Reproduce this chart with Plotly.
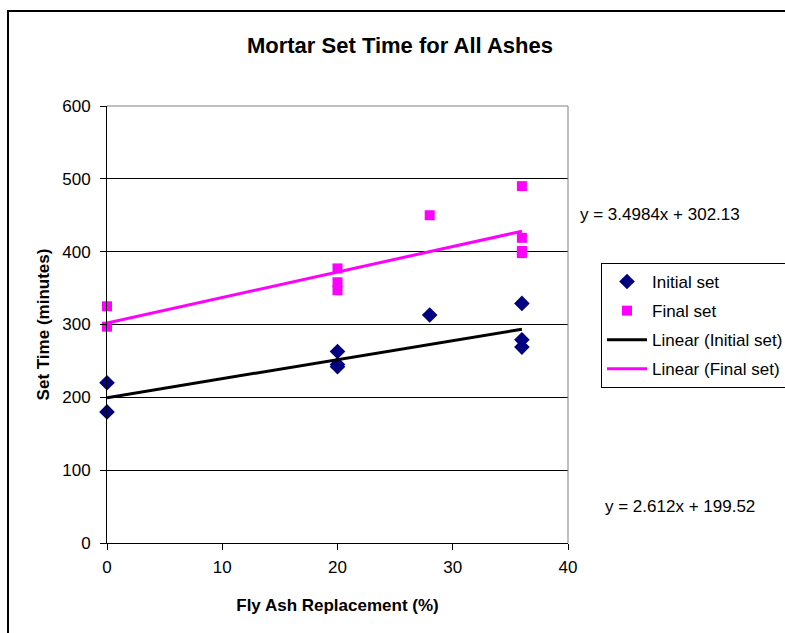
import plotly.graph_objects as go

# Data
initial_x = [0, 0, 20, 20, 20, 28, 36, 36, 36]
initial_y = [220, 180, 263, 245, 242, 313, 329, 279, 269]
final_x = [0, 0, 20, 20, 20, 28, 36, 36, 36, 36]
final_y = [325, 297, 377, 358, 347, 450, 490, 419, 401, 398]

initial_fit = [2.612, 199.52]   # slope, intercept
final_fit = [3.4984, 302.13]
fit_x = [0, 36]

x_ticks = [0, 10, 20, 30, 40]
y_ticks = [0, 100, 200, 300, 400, 500, 600]

FONT = "Liberation Sans, Arial, sans-serif"
TXT = 17

fig = go.Figure()
fig.add_trace(go.Scatter(x=initial_x, y=initial_y, mode="markers", name="Initial set",
                         legendgroup="a", cliponaxis=False,
                         marker=dict(symbol="diamond", color="#000080", size=12,
                                     line=dict(width=0))))
fig.add_trace(go.Scatter(x=final_x, y=final_y, mode="markers", name="Final set",
                         legendgroup="b", cliponaxis=False,
                         marker=dict(symbol="square", color="#FF00FF", size=10,
                                     line=dict(width=0))))
fig.add_trace(go.Scatter(x=fit_x, y=[initial_fit[0] * v + initial_fit[1] for v in fit_x],
                         mode="lines", name="Linear (Initial set)", legendgroup="c",
                         line=dict(color="black", width=3)))
fig.add_trace(go.Scatter(x=fit_x, y=[final_fit[0] * v + final_fit[1] for v in fit_x],
                         mode="lines", name="Linear (Final set)", legendgroup="d",
                         line=dict(color="#FF00FF", width=3)))

L, R, T, B = 107, 568, 106, 543
W, H = 785, 633
pw, ph = R - L, B - T

def px(xp):
    return (xp - L) / pw

def py(yp):
    return (B - yp) / ph

fig.update_layout(
    width=W, height=H,
    margin=dict(l=L, r=W - R, t=T, b=H - B, pad=0, autoexpand=False),
    paper_bgcolor="white", plot_bgcolor="white",
    font=dict(family=FONT, size=TXT, color="black"),
    title=dict(text="<b>Mortar Set Time for All Ashes</b>", xref="container",
               x=400 / W, xanchor="center", yref="container", y=1 - 45 / H,
               yanchor="middle", font=dict(size=22, family=FONT)),
    xaxis=dict(range=[0, 40], tickvals=x_ticks, showgrid=False, showline=True,
               linecolor="black", linewidth=1, ticks="outside", ticklen=6,
               tickcolor="black", zeroline=False, automargin=False,
               ticklabelstandoff=3,
               title=dict(text="<b>Fly Ash Replacement (%)</b>", standoff=22,
                          font=dict(size=TXT, family=FONT)),
               tickfont=dict(size=TXT, family=FONT)),
    yaxis=dict(range=[0, 600], tickvals=y_ticks, showgrid=True, gridcolor="black",
               gridwidth=1, showline=True, linecolor="black", linewidth=1,
               ticks="outside", ticklen=6, tickcolor="black", zeroline=False,
               ticklabelstandoff=6, automargin=False,
               title=dict(text="<b>Set Time (minutes)</b>", standoff=8,
                          font=dict(size=TXT, family=FONT)),
               tickfont=dict(size=TXT, family=FONT)),
    legend=dict(xref="container", yref="container", x=601 / W, y=1 - 263 / H,
                xanchor="left", yanchor="top",
                bgcolor="white", bordercolor="black", borderwidth=1,
                font=dict(size=TXT, family=FONT), tracegroupgap=4,
                traceorder="grouped", itemwidth=40),
    showlegend=True,
)

# Plot-area border (gray top/right) and outer chart frame
fig.add_shape(type="line", xref="paper", yref="paper", x0=0, x1=1, y0=1, y1=1,
              line=dict(color="#808080", width=1))
fig.add_shape(type="line", xref="paper", yref="paper", x0=1, x1=1, y0=0, y1=1,
              line=dict(color="#808080", width=1))
fig.add_shape(type="rect", xref="paper", yref="paper", x0=px(8), x1=px(W + 20),
              y0=py(H + 20), y1=py(11), line=dict(color="black", width=2),
              fillcolor="rgba(0,0,0,0)", layer="below")

fig.add_annotation(xref="paper", yref="paper", x=px(578), y=py(214), xanchor="left",
                   yanchor="middle", showarrow=False,
                   text=f"y = {final_fit[0]}x + {final_fit[1]}", font=dict(size=TXT))
fig.add_annotation(xref="paper", yref="paper", x=px(603), y=py(506), xanchor="left",
                   yanchor="middle", showarrow=False,
                   text=f"y = {initial_fit[0]}x + {initial_fit[1]}", font=dict(size=TXT))

fig.write_html("out.html")
